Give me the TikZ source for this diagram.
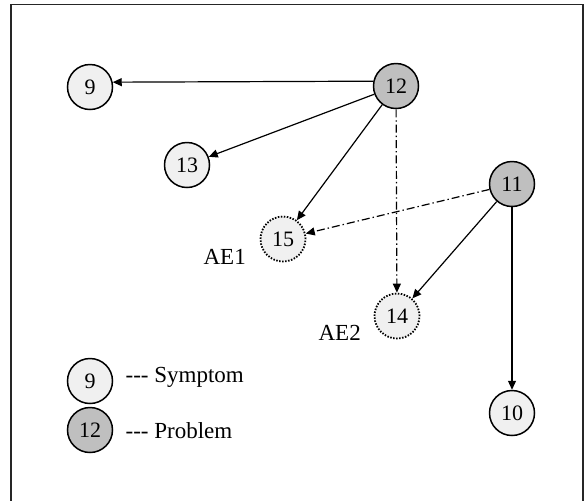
\documentclass[tikz,border=0pt]{standalone}
\usepackage{fontspec}
\setmainfont{Liberation Serif}
\usetikzlibrary{arrows.meta}
\definecolor{symfill}{gray}{0.94}
\definecolor{probfill}{gray}{0.75}
\tikzstyle{evt} = [draw=black, line width=0.75pt, circle, minimum size=22.5pt, inner sep=0pt, font={\fontsize{11}{13}\selectfont}]
\tikzstyle{symptom} = [fill=symfill]
\tikzstyle{problem} = [fill=probfill]
\tikzstyle{ae} = [symptom, dash pattern=on 0.75pt off 0.75pt, line width=0.9pt]
\tikzstyle{lbl} = [inner sep=0pt, anchor=base west, font={\fontsize{11.5}{13}\selectfont}]
\tikzstyle{aelink} = [dash pattern=on 4pt off 1.5pt on 0.7pt off 1.5pt]

\begin{document}
\begin{tikzpicture}[x=0.5pt, y=-0.5pt, line width=0.6pt, >={Triangle[length=4.5pt,width=4pt]}]
    \useasboundingbox (0,0) rectangle (587,500);
    \clip (0,0) rectangle (587,500);
    \draw[line width=0.9pt, black!85] (11,4.5) rectangle (583,520);
    \node[evt,symptom](9) at (90,87){9};
    \node[evt,problem](12) at (396,86){12};
    \node[evt,symptom](13) at (187,165){13};
    \node[evt,problem](11) at (512,184){11};
    \node[evt,ae](15) at (283,239){15};
    \node[evt,ae](14) at (397,316){14};
    \node[evt,symptom](10) at (512,413){10};
    \node[lbl](ae1) at (203,264){AE1};
    \node[lbl](ae2) at (318,340){AE2};
    % legend
    \node[evt,symptom](9b) at (90,381){9};
    \node[evt,problem](12b) at (90,430){12};
    \node[lbl](symtxt) at (125,382){{-}{-}{-} Symptom};
    \node[lbl](probtxt) at (125,438){{-}{-}{-} Problem};
    \draw[->](12.168)--(9.12);
    \draw[->](12)--(13);
    \draw[->](12)--(15);
    \draw[->,aelink](12)--(14);
    \draw[->,aelink](11)--(15);
    \draw[->](11)--(14);
    \draw[->](11)--(10);
  \end{tikzpicture}
\end{document}
